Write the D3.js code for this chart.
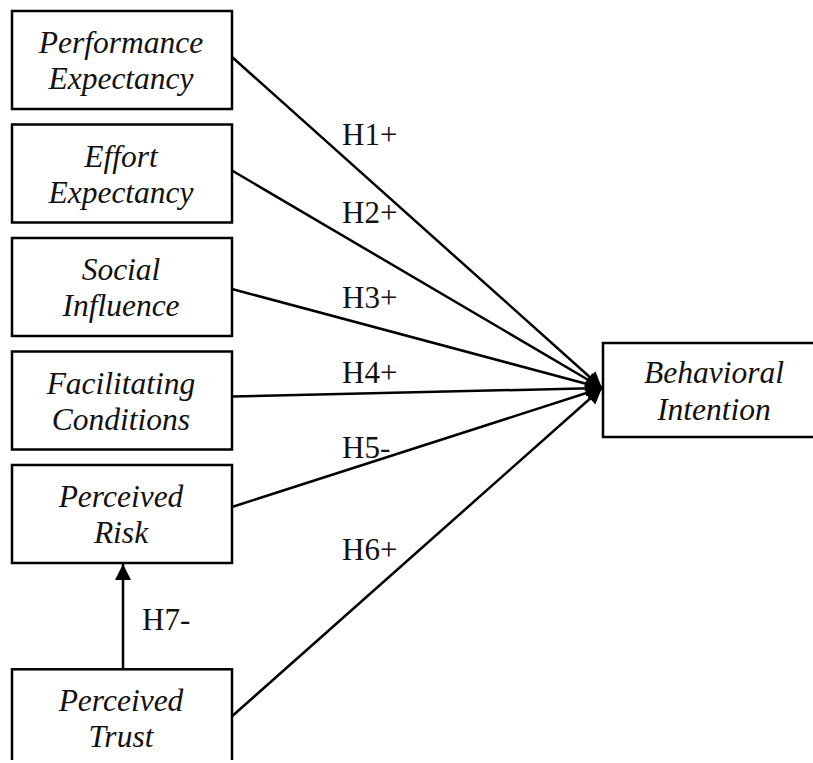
<!DOCTYPE html>
<html>
<head>
<meta charset="utf-8">
<script src="https://cdn.jsdelivr.net/npm/d3@7"></script>
<style>
  html, body { margin: 0; padding: 0; background: #fff; }
  svg { display: block; }
</style>
</head>
<body>
<div id="chart"></div>
<script>
// constructs (two text lines each) and hypothesis labels
const constructs = [
  ["Performance", "Expectancy"],
  ["Effort", "Expectancy"],
  ["Social", "Influence"],
  ["Facilitating", "Conditions"],
  ["Perceived", "Risk"],
  ["Perceived", "Trust"]
];
const hypotheses = ["H1+", "H2+", "H3+", "H4+", "H5-", "H6+"];
const outcome = ["Behavioral", "Intention"];
const trustLink = "H7-";

const width = 813, height = 760;
const boxH = 98;
const serif = '"Liberation Serif", "Times New Roman", Times, serif';

const svg = d3.select("#chart").append("svg")
  .attr("width", width)
  .attr("height", height)
  .attr("font-family", serif);

svg.append("defs").append("marker")
  .attr("id", "arrow")
  .attr("viewBox", "0 0 10 10")
  .attr("refX", 10).attr("refY", 5)
  .attr("markerUnits", "userSpaceOnUse")
  .attr("markerWidth", 18).attr("markerHeight", 16)
  .attr("orient", "auto")
  .append("path")
  .attr("d", "M0,0L10,5L0,10Z")
  .attr("fill", "#000");

// row index -> top of box; last row (trust) sits lower
const y = d3.scaleLinear().domain([0, 1]).range([11, 124.5]);
const rowPos = [0, 1, 2, 3, 4, 5.8];
const x = d3.scaleLinear().domain([0, 1]).range([12, 232]);

const boxes = svg.selectAll("g.box")
  .data(constructs)
  .join("g")
  .attr("class", "box")
  .attr("transform", (d, i) => `translate(${x(0)},${y(rowPos[i])})`);

boxes.append("rect")
  .attr("width", x(1) - x(0))
  .attr("height", (d, i) => i === 5 ? 120 : boxH)
  .attr("fill", "#fff")
  .attr("stroke", "#000")
  .attr("stroke-width", 2.5);

boxes.append("text")
  .attr("text-anchor", "middle")
  .attr("font-style", "italic")
  .attr("font-size", 31.5)
  .attr("fill", "#111")
  .selectAll("tspan")
  .data(d => d)
  .join("tspan")
  .attr("x", (x(1) - x(0)) / 2 - 1)
  .attr("y", (d, i) => 42 + i * 36)
  .text(d => d);

// outcome box
const bi = { x: 603, y: 343, w: 212, h: 94 };
const biG = svg.append("g").attr("transform", `translate(${bi.x},${bi.y})`);
biG.append("rect")
  .attr("width", bi.w).attr("height", bi.h)
  .attr("fill", "#fff").attr("stroke", "#000").attr("stroke-width", 2.5);
biG.append("text")
  .attr("text-anchor", "middle")
  .attr("font-style", "italic")
  .attr("font-size", 31.5)
  .attr("fill", "#111")
  .selectAll("tspan")
  .data(outcome)
  .join("tspan")
  .attr("x", 111)
  .attr("y", (d, i) => 40 + i * 37)
  .text(d => d);

// paths to outcome
const startOff = [46, 46, 51, 45, 42, 47];
const tip = [bi.x - 1, 388];
svg.selectAll("line.path")
  .data(hypotheses)
  .join("line")
  .attr("class", "path")
  .attr("x1", x(1))
  .attr("y1", (d, i) => y(rowPos[i]) + startOff[i])
  .attr("x2", tip[0])
  .attr("y2", tip[1])
  .attr("stroke", "#000")
  .attr("stroke-width", 2.5)
  .attr("marker-end", "url(#arrow)");

const labelY = [145, 223, 308, 383, 458, 560];
svg.selectAll("text.hyp")
  .data(hypotheses)
  .join("text")
  .attr("class", "hyp")
  .attr("x", 342)
  .attr("y", (d, i) => labelY[i])
  .attr("font-size", 31)
  .attr("fill", "#111")
  .text(d => d);

// trust -> risk
const riskBottom = y(rowPos[4]) + boxH;
const trustTop = y(rowPos[5]);
svg.append("line")
  .attr("x1", 123).attr("y1", trustTop)
  .attr("x2", 123).attr("y2", riskBottom + 1)
  .attr("stroke", "#000").attr("stroke-width", 2.5)
  .attr("marker-end", "url(#arrow)");
svg.append("text")
  .attr("x", 142).attr("y", 630)
  .attr("font-size", 31)
  .attr("fill", "#111")
  .text(trustLink);
</script>
</body>
</html>
